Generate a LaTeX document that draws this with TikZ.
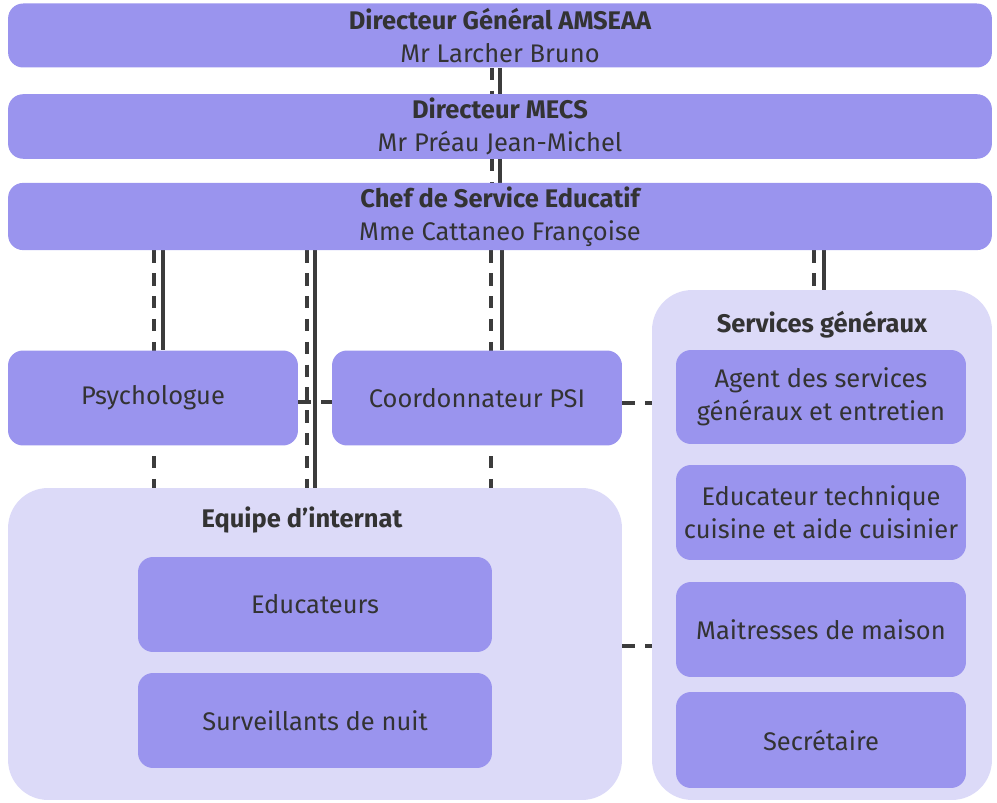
\documentclass[tikz,border=0pt]{standalone}
\usepackage{fontspec}
\setmainfont{Fira Sans}
\usepackage{xcolor}
\usetikzlibrary{backgrounds}

\definecolor{boxfill}{HTML}{9A94EE}
\definecolor{grpfill}{HTML}{DCDAF8}
\definecolor{inkgray}{HTML}{333333}
\definecolor{linegray}{HTML}{3C3C3C}

\begin{document}
\begin{tikzpicture}[x=0.02cm, y=-0.02cm,
    every node/.style={text=inkgray, font=\fontsize{14.5}{19}\selectfont, align=center},
    box/.style={rectangle, fill=boxfill, rounded corners=0.3cm, minimum width=5.8cm, minimum height=1.9cm, inner sep=2pt},
    wide/.style={box, minimum width=19.68cm, minimum height=1.28cm},
    group/.style={rectangle, fill=grpfill, rounded corners=0.8cm, inner sep=0pt},
    link/.style={draw=linegray, line width=2pt},
    dlink/.style={link, dash pattern=on 7pt off 6pt}]

    \useasboundingbox (0,0) rectangle (997,803);

    % groups
    \node[group, minimum width=12.28cm, minimum height=6.24cm] (internat) at (315,644) {};
    \node[group, minimum width=6.8cm, minimum height=10.2cm] (services) at (822,545) {};
    \node[font=\fontsize{14.5}{19}\selectfont\bfseries] (tint) at (302,520) {Equipe d’internat};
    \node[font=\fontsize{14.5}{19}\selectfont\bfseries] (tserv) at (822,325) {Services généraux};

    % direction
    \node[wide] (dg) at (500,35.5) {{\bfseries Directeur Général AMSEAA}\\Mr Larcher Bruno};
    \node[wide] (dm) at (500,126.5) {{\bfseries Directeur MECS}\\Mr Préau Jean-Michel};
    \node[wide] (chef) at (500,216.5) {{\bfseries Chef de Service Educatif}\\Mme Cattaneo Françoise};

    \node[box] (psy) at (153,398) {Psychologue};
    \node[box] (psi) at (477,398) {Coordonnateur PSI};

    \node[box, minimum width=7.08cm] (educ) at (315,604.5) {Educateurs};
    \node[box, minimum width=7.08cm] (surv) at (315,720.5) {Surveillants de nuit};

    \node[box, minimum height=1.88cm] (agent) at (821,397) {Agent des services\\généraux et entretien};
    \node[box] (tech) at (821,512.5) {Educateur technique\\cuisine et aide cuisinier};
    \node[box] (mait) at (821,629.5) {Maitresses de maison};
    \node[box, minimum height=1.92cm] (secr) at (821,740) {Secrétaire};

    \coordinate (c1) at (154,0);
    \coordinate (c2) at (163,0);
    \coordinate (c3) at (307,0);
    \coordinate (c4) at (315,0);
    \coordinate (c5) at (491,0);
    \coordinate (c6) at (502,0);
    \coordinate (c7) at (814,0);
    \coordinate (c8) at (824,0);

    % links
    \begin{scope}[on background layer]
        \draw[dlink] ([xshift=-0.16cm]dg.south) -- ([xshift=-0.16cm]dm.north);
        \draw[link] (dg.south) -- (dm.north);
        \draw[dlink] ([xshift=-0.16cm]dm.south) -- ([xshift=-0.16cm]chef.north);
        \draw[link] (dm.south) -- (chef.north);

        \draw[dlink] (chef.south -| c1) -- (internat.north -| c1);
        \draw[link] (chef.south -| c2) -- (psy.north -| c2);
        \draw[dlink] (chef.south -| c3) -- (internat.north -| c3);
        \draw[link] (chef.south -| c4) -- (internat.north -| c4);
        \draw[dlink] (chef.south -| c5) -- (internat.north -| c5);
        \draw[link] (chef.south -| c6) -- (psi.north -| c6);
        \draw[dlink] (chef.south -| c7) -- (services.north -| c7);
        \draw[link] (chef.south -| c8) -- (services.north -| c8);

        \draw[dlink] ([yshift=-0.08cm]psy.east) -- ([yshift=-0.08cm]psi.west);
        \draw[dlink] ([yshift=-0.1cm]psi.east) -- ([yshift=-0.1cm]psi.east -| services.west);
        \draw[dlink] (internat.east |- 0,646) -- (services.west |- 0,646);
    \end{scope}
\end{tikzpicture}
\end{document}
